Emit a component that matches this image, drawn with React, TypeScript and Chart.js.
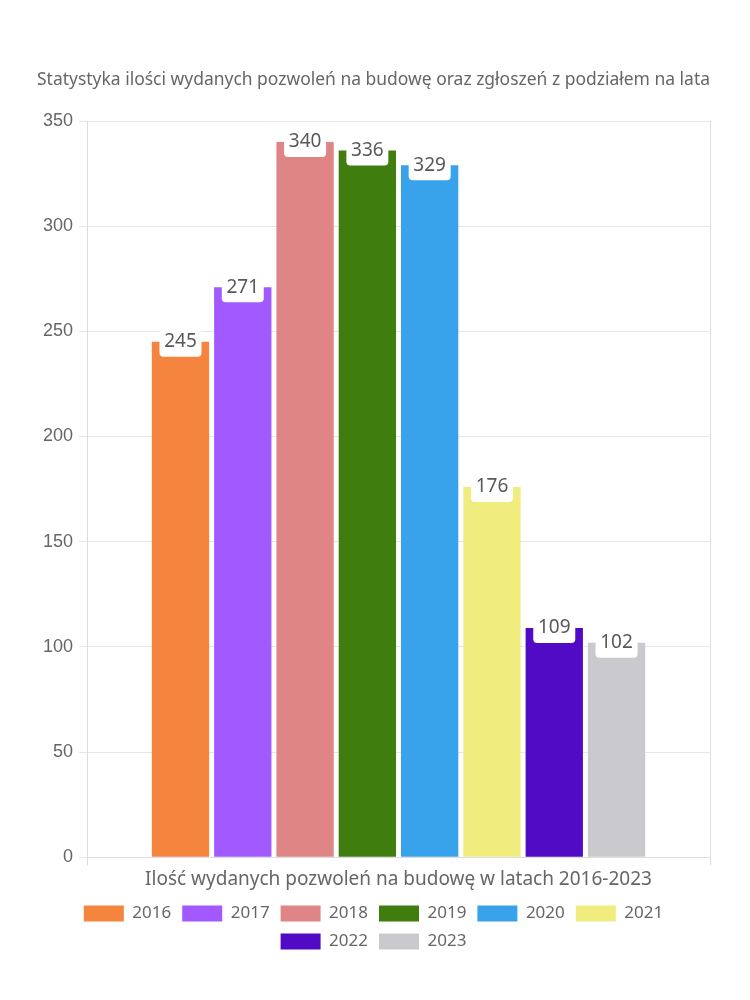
import React, { useEffect, useRef } from "react";
import { Chart, registerables } from "chart.js";

Chart.register(...registerables);

const title = "Statystyka ilości wydanych pozwoleń na budowę oraz zgłoszeń z podziałem na lata";
const categories = ["Ilość wydanych pozwoleń na budowę w latach 2016-2023"];
const years = ["2016", "2017", "2018", "2019", "2020", "2021", "2022", "2023"];
const values = [245, 271, 340, 336, 329, 176, 109, 102];
const colors = ["#F5843F", "#A259FF", "#E08585", "#3E7D0E", "#38A3EA", "#F0EC7E", "#520BC4", "#CACACE"];
const yTicks = [0, 50, 100, 150, 200, 250, 300, 350];

const FONT = "'Noto Sans', sans-serif";

const labelPlugin = {
  id: "boxLabels",
  afterDatasetsDraw(chart: any) {
    const ctx = chart.ctx;
    ctx.save();
    chart.data.datasets.forEach((ds: any, i: number) => {
      const meta = chart.getDatasetMeta(i);
      meta.data.forEach((bar: any, j: number) => {
        const v = ds.data[j];
        const x = bar.x;
        const y = bar.y;
        const w = 42, h = 30;
        ctx.fillStyle = "#ffffff";
        ctx.beginPath();
        (ctx as any).roundRect(x - w / 2, y - h / 2, w, h, 4);
        ctx.fill();
        ctx.fillStyle = "#595959";
        ctx.font = `19px ${FONT}`;
        ctx.textAlign = "center";
        ctx.textBaseline = "middle";
        ctx.fillText(String(v), x, y);
      });
    });
    ctx.restore();
  },
};

export default function App() {
  const ref = useRef<HTMLCanvasElement>(null);
  useEffect(() => {
    if (!ref.current) return;
    const chart = new Chart(ref.current, {
      type: "bar",
      data: {
        labels: categories,
        datasets: years.map((y, i) => ({
          label: y,
          data: [values[i]],
          backgroundColor: colors[i],
          borderWidth: 0,
        })),
      },
      options: {
        animation: false,
        responsive: true,
        maintainAspectRatio: false,
        layout: { padding: { left: 37, right: 40, top: 70, bottom: 40 } },
        datasets: { bar: { categoryPercentage: 0.8, barPercentage: 0.92 } },
        scales: {
          x: {
            grid: { color: "#dddddd", offset: true },
            border: { color: "#dddddd" },
            ticks: { color: "#666666", font: { family: FONT, size: 19 }, padding: 3 },
          },
          y: {
            min: 0,
            max: 350,
            afterBuildTicks: (axis: any) => {
              axis.ticks = yTicks.map((v) => ({ value: v }));
            },
            grid: { color: "#e6e6e6" },
            border: { color: "#dddddd" },
            ticks: { color: "#666666", font: { family: "'Liberation Sans', Arial, sans-serif", size: 18 }, padding: 6 },
          },
        },
        plugins: {
          title: {
            display: true,
            text: title,
            color: "#666666",
            font: { family: FONT, size: 17.5, weight: "normal" },
            padding: { top: 0, bottom: 30 },
          },
          legend: {
            position: "bottom",
            labels: {
              color: "#666666",
              font: { family: FONT, size: 17 },
              boxWidth: 40,
              boxHeight: 16,
              padding: 11,
            },
          },
          tooltip: { enabled: false },
        },
      },
      plugins: [labelPlugin],
    });
    return () => chart.destroy();
  }, []);
  return (
    <div style={{ position: "absolute", left: 0, top: 0, width: 750, height: 1000, background: "#fff" }}>
      <canvas ref={ref} />
    </div>
  );
}
